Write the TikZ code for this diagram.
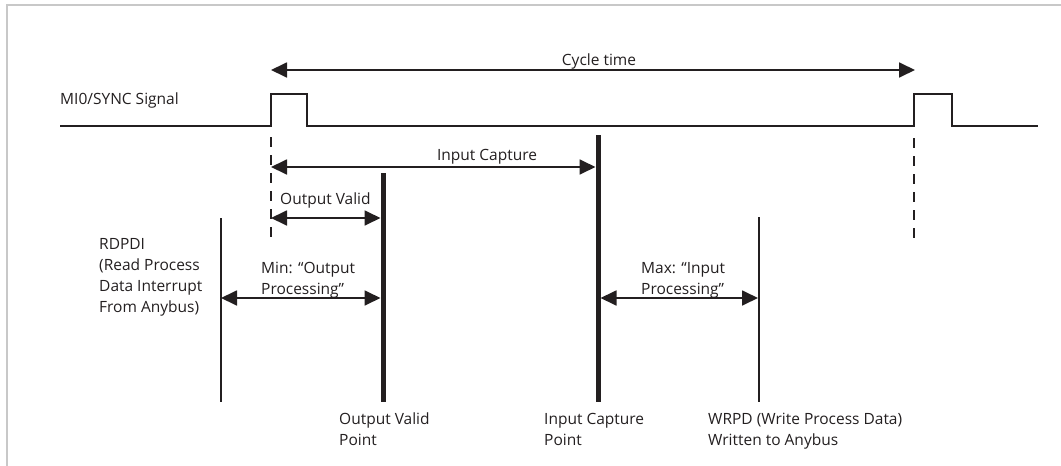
\documentclass[tikz,border=0pt]{standalone}
\usepackage{fontspec}
\setmainfont{Open Sans}
\usetikzlibrary{arrows.meta}
\definecolor{ink}{HTML}{231F20}
\definecolor{framegray}{HTML}{C8C8C8}
\begin{document}
\begin{tikzpicture}[x=1pt,y=-1pt,
  lbl/.style={font=\fontsize{15.5}{21}\selectfont, text=ink, inner sep=0pt, anchor=base west},
  blk/.style={font=\fontsize{15.5}{21}\selectfont, text=ink, inner sep=0pt, anchor=north west, align=left},
  sig/.style={draw=ink, line width=1.8pt},
  dimarrow/.style={draw=ink, line width=1.8pt, {Triangle[length=16pt,width=15pt]}-{Triangle[length=16pt,width=15pt]}},
  thinv/.style={draw=ink, line width=1.6pt},
  thickv/.style={draw=ink, line width=5pt},
  dashv/.style={draw=ink, line width=1.8pt, dash pattern=on 10pt off 8pt},
]
\useasboundingbox (0,0) rectangle (1061,466);
% frame
\coordinate (fA) at (7,466);
\coordinate (fB) at (7,5);
\coordinate (fC) at (1061,5);
\draw[framegray, line width=1.5pt] (fA) -- (fB) -- (fC);

% signal
\coordinate (s0) at (60,126);
\coordinate (p1a) at (271,126);
\coordinate (p1b) at (271,94);
\coordinate (p1c) at (307,94);
\coordinate (p1d) at (307,126);
\coordinate (p2a) at (914,126);
\coordinate (p2b) at (914,94);
\coordinate (p2c) at (952,94);
\coordinate (p2d) at (952,126);
\coordinate (s1) at (1038,126);
\draw[sig] (s0) -- (p1a) -- (p1b) -- (p1c) -- (p1d) -- (p2a) -- (p2b) -- (p2c) -- (p2d) -- (s1);

% cycle time
\coordinate (cyL) at (271,70);
\coordinate (cyR) at (915,70);
\draw[dimarrow] (cyL) -- (cyR);

% dashed lines
\coordinate (d1t) at (271,137);
\coordinate (d1b) at (271,240);
\coordinate (d2t) at (914,138);
\coordinate (d2b) at (914,240);
\draw[dashv] (d1t) -- (d1b);
\draw[dashv] (d2t) -- (d2b);

% thick lines
\coordinate (ict) at (598,135);
\coordinate (icb) at (598,402);
\coordinate (ovt) at (383,173);
\coordinate (ovb) at (383,402);
\draw[thickv] (ict) -- (icb);
\draw[thickv] (ovt) -- (ovb);

% thin lines
\coordinate (rdt) at (221,218);
\coordinate (rdb) at (221,402);
\coordinate (wrt) at (759,217);
\coordinate (wrb) at (759,402);
\draw[thinv] (rdt) -- (rdb);
\draw[thinv] (wrt) -- (wrb);

% dimension arrows
\coordinate (icL) at (271,167);
\coordinate (icR) at (595.5,167);
\draw[dimarrow] (icL) -- (icR);
\coordinate (ovL) at (271,218);
\coordinate (ovR) at (380.5,218);
\draw[dimarrow] (ovL) -- (ovR);
\coordinate (mnL) at (221,298);
\coordinate (mnR) at (380.5,298);
\draw[dimarrow] (mnL) -- (mnR);
\coordinate (mxL) at (600.5,298);
\coordinate (mxR) at (758,298);
\draw[dimarrow] (mxL) -- (mxR);

% labels
\node[lbl] (tsig) at (60,104) {MI0/SYNC Signal};
\node[lbl, anchor=base] (tcyc) at (599,65) {Cycle time};
\node[lbl, anchor=base] (tic) at (487,160) {Input Capture};
\node[lbl] (tov) at (280,204) {Output Valid};
\node[blk] (trd) at (99,238) {RDPDI\\(Read Process\\Data Interrupt\\From Anybus)};
\node[blk] (tmin) at (261,262) {Min: “Output\\Processing”};
\node[blk] (tmax) at (641,262) {Max: “Input\\Processing”};
\node[blk] (tovp) at (339,413) {Output Valid\\Point};
\node[blk] (ticp) at (544,413) {Input Capture\\Point};
\node[blk] (twr) at (708,413) {WRPD (Write Process Data)\\Written to Anybus};
\end{tikzpicture}
\end{document}
